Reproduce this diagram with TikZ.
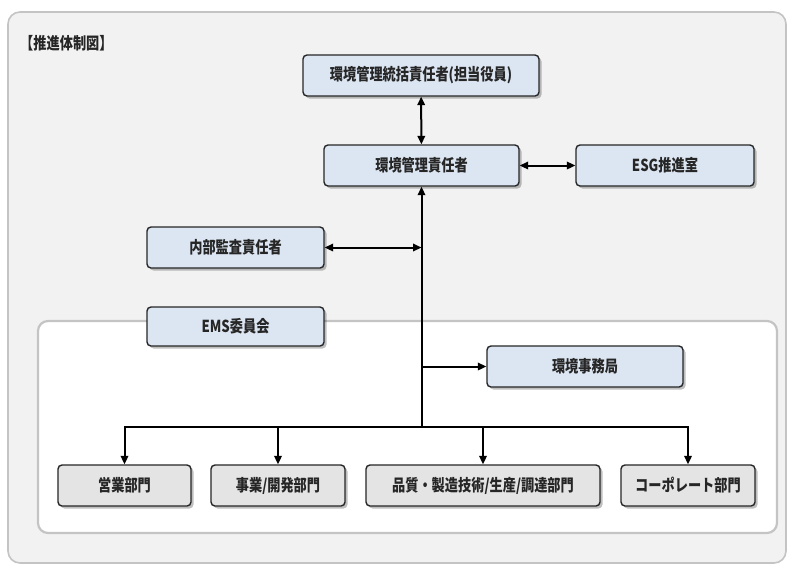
\documentclass[tikz,border=0pt]{standalone}
\usepackage{fontspec}
\setmainfont{Noto Sans CJK JP}[FakeStretch=0.8]
\usetikzlibrary{arrows.meta,shadows}
\definecolor{framefill}{HTML}{F2F2F2}
\definecolor{framedraw}{HTML}{C4C4C4}
\definecolor{boxblue}{HTML}{DCE6F2}
\definecolor{boxgray}{HTML}{E4E4E4}
\definecolor{ink}{HTML}{262626}

\begin{document}
\begin{tikzpicture}[x=1pt,y=-1pt,>={Triangle[length=8.5pt,width=7.5pt]},
    font=\fontsize{16.5}{19}\selectfont\bfseries,text=ink]
        % Styles
        \tikzstyle{frame}=[draw=framedraw,fill=framefill,line width=1.6pt,rounded corners=12pt]
        \tikzstyle{panel}=[draw=framedraw,fill=white,line width=2.2pt,rounded corners=10pt]
        \tikzstyle{box}=[draw=ink,fill=boxblue,line width=1.4pt,rounded corners=4pt,minimum height=41pt,
            drop shadow={shadow xshift=2.5pt,shadow yshift=-2.5pt,fill=black,opacity=0.25}]
        \tikzstyle{unit}=[box,fill=boxgray]
        \tikzstyle{link}=[draw=black,line width=2pt]
        %The graphic
        \useasboundingbox (0,0) rectangle (789,566);
        \draw[style=frame] (8,12) rectangle (786,563);
        \draw[style=panel] (38,321) rectangle (777,533);
        \node[anchor=west,inner sep=0pt] (title) at (20,43) {【推進体制図】};
        %management
        \node[box,minimum width=236pt] (top) at (421,75.5) {環境管理統括責任者(担当役員)};
        \node[box,minimum width=195pt] (mgr) at (421.5,165.5) {環境管理責任者};
        \node[box,minimum width=178pt] (esg) at (665,165.5) {ESG推進室};
        \node[box,minimum width=177pt] (audit) at (235.5,247.5) {内部監査責任者};
        \node[box,minimum width=177pt,minimum height=39pt] (ems) at (235.5,326.5) {EMS委員会};
        \node[box,minimum width=196pt] (office) at (585,366.5) {環境事務局};
        %departments
        \node[unit,minimum width=133pt] (sales) at (124.5,485.5) {営業部門};
        \node[unit,minimum width=134pt] (biz) at (278,485.5) {事業/開発部門};
        \node[unit,minimum width=234pt] (quality) at (483,485.5) {品質・製造技術/生産/調達部門};
        \node[unit,minimum width=134pt] (corp) at (688,485.5) {コーポレート部門};
        \coordinate (bus) at (421.5,427);
        %links
        \draw[style=link,<->] (top) -- (mgr);
        \draw[style=link,<->] (mgr) -- (esg);
        \draw[style=link,->] (bus) -- (mgr);
        \draw[style=link,<->] (audit) -- (audit -| mgr.south);
        \draw[style=link,->] (office -| mgr.south) -- (office);
        \foreach \d in {sales,biz,quality,corp}
            \draw[style=link,->] (bus) -| (\d);
    \end{tikzpicture}
\end{document}
